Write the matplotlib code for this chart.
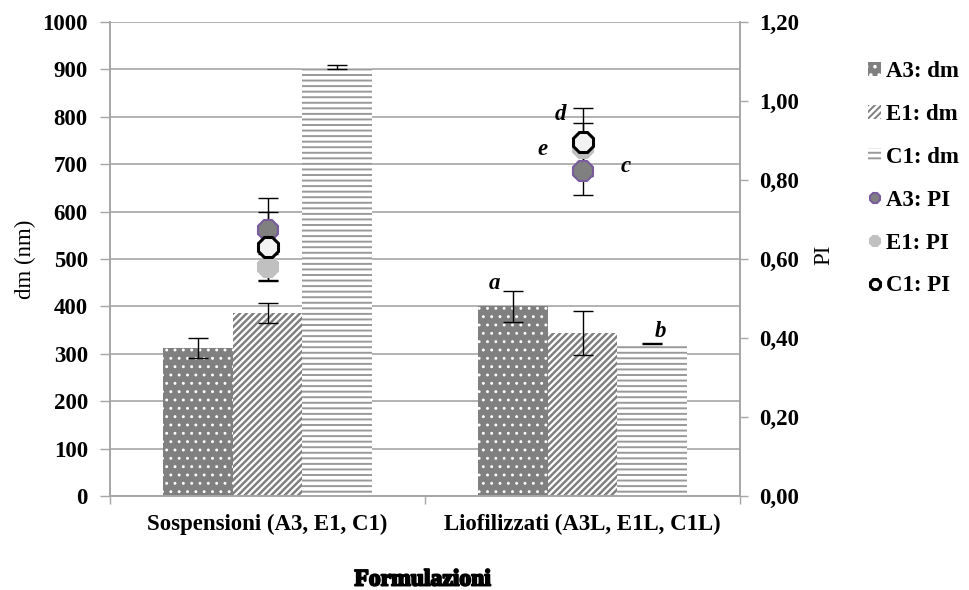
import matplotlib
matplotlib.use("Agg")
import matplotlib.pyplot as plt
from matplotlib.patches import Patch
from matplotlib.lines import Line2D
from matplotlib.ticker import FuncFormatter, MultipleLocator
import matplotlib.patheffects as pe
import numpy as np

plt.rcParams['font.family'] = ['Liberation Serif', 'DejaVu Serif']

# ---- data ----
categories = ["Sospensioni (A3, E1, C1)", "Liofilizzati (A3L, E1L, C1L)"]
series = ["A3", "E1", "C1"]
dm_A3 = [312, 400]
dm_E1 = [386, 344]
dm_C1 = [905, 321]
dm_A3_err = [21, 32]
dm_E1_err = [21, 47]
dm_C1_err = [5, 1]
pi_A3 = [0.673, 0.823]
pi_E1 = [0.580, 0.880]
pi_C1 = [0.631, 0.897]
pi_A3_err = [0.081, 0.062]
pi_E1_err = [0.033, 0.065]
pi_C1_err = [0.087, 0.086]
letters = ["a", "b", "c", "d", "e"]

GRAY = '#808080'
GRID = '#a6a6a6'
FS = 16.5

fig = plt.figure(figsize=(9.69, 5.90), dpi=100)
ax = fig.add_axes([110/969, 1-496/590, 630/969, 474/590])
ax2 = ax.twinx()

x = np.arange(len(categories))
w = 0.222

bar_styles = [
    dict(color=GRAY, hatch='..', hcol='white', hlw=0.9),
    dict(color='white', hatch='/////', hcol=GRAY, hlw=1.8),
    dict(color='white', hatch='---', hcol='#999999', hlw=1.4),
]
vals = [dm_A3, dm_E1, dm_C1]
errs = [dm_A3_err, dm_E1_err, dm_C1_err]
handles = []
for i, (v, e, st) in enumerate(zip(vals, errs, bar_styles)):
    plt.rcParams['hatch.linewidth'] = st['hlw']
    ax.bar(x + (i - 1) * w, v, width=w, color=st['color'], edgecolor=st['hcol'],
           hatch=st['hatch'], linewidth=0, zorder=2)
    ax.errorbar(x + (i - 1) * w, v, yerr=e, fmt='none', ecolor='black',
                elinewidth=1, capsize=7, capthick=1, zorder=3)
    handles.append(Patch(facecolor=st['color'], edgecolor=st['hcol'], hatch=st['hatch'],
                         linewidth=0, label=f"{series[i]}: dm"))

# PI markers
mstyles = [
    dict(mfc=GRAY, mec='#7a5c9e', mew=1.5),
    dict(mfc='#c0c0c0', mec='#c0c0c0', mew=1.5),
    dict(mfc='#f2f2f2', mec='black', mew=2.2),
]
pvals = [pi_A3, pi_E1, pi_C1]
perrs = [pi_A3_err, pi_E1_err, pi_C1_err]
for i, (v, e, st) in enumerate(zip(pvals, perrs, mstyles)):
    ax2.errorbar(x, v, yerr=e, fmt='none', ecolor='black', elinewidth=1,
                 capsize=7, capthick=1, zorder=2)
for i, (v, st) in enumerate(zip(pvals, mstyles)):
    ax2.plot(x, v, linestyle='none', marker='8', markersize=16, zorder=3, **st)
    handles.append(Line2D([], [], linestyle='none', marker='8', markersize=8,
                          label=f"{series[i]}: PI", **st))

# axes limits and ticks
ax.set_xlim(-0.5, 1.5)
ax.set_ylim(0, 1000)
ax2.set_ylim(0, 1.2)
ax.yaxis.set_major_locator(MultipleLocator(100))
ax2.yaxis.set_major_locator(MultipleLocator(0.2))
ax2.yaxis.set_major_formatter(FuncFormatter(lambda v, p: f"{v:.2f}".replace('.', ',')))

ax.set_xticks(x)
ax.set_xticklabels(categories, fontsize=FS, fontweight='bold')
ax.set_xticks([-0.5, 0.5, 1.5], minor=True)
ax.tick_params(axis='x', which='major', length=0, pad=13)
ax.tick_params(axis='x', which='minor', length=6, color=GRID, width=1)
ax.tick_params(axis='y', length=7, color=GRID, width=1, pad=9, labelsize=FS)
ax2.tick_params(axis='y', length=6, color=GRID, width=1, pad=8, labelsize=FS)
for lab in ax.get_yticklabels() + ax2.get_yticklabels():
    lab.set_fontweight('bold')

ax.grid(axis='y', color=GRID, linewidth=1.2, zorder=0)
ax.set_axisbelow(True)
for a in (ax, ax2):
    a.spines['top'].set_visible(False)
    for s in ('left', 'right', 'bottom'):
        a.spines[s].set_color(GRID)
        a.spines[s].set_linewidth(1.2)

ax.set_ylabel("dm (nm)", fontsize=FS)
ax.yaxis.set_label_coords((36 - 110) / 630, 0.5)
ax2.set_ylabel("PI", fontsize=FS)
ax2.yaxis.set_label_coords((813 - 110) / 630, (496 - 255) / 474)

fig.text(423/969, 1-580/590, "Formulazioni", ha='center', va='center',
         fontsize=17, fontweight='bold',
         path_effects=[pe.withStroke(linewidth=1.4, foreground='black')])

# significance letters
letter_pos = [
    (ax, 0.721, 449), (ax, 1.248, 346), (ax2, 1.137, 0.833),
    (ax2, 0.930, 0.965), (ax2, 0.873, 0.876),
]
for (a, lx, ly), t in zip(letter_pos, letters):
    a.text(lx, ly, t, fontsize=FS, fontweight='bold', fontstyle='italic',
           ha='center', va='center', zorder=5)

fig.legend(handles=handles, loc='upper left', bbox_to_anchor=(857/969, 1-50/590),
           frameon=False, prop={'size': FS, 'weight': 'bold'},
           handlelength=0.55, handleheight=0.55, handletextpad=0.2,
           labelspacing=0.95, borderpad=0)

fig.savefig("out.png", dpi=100)
